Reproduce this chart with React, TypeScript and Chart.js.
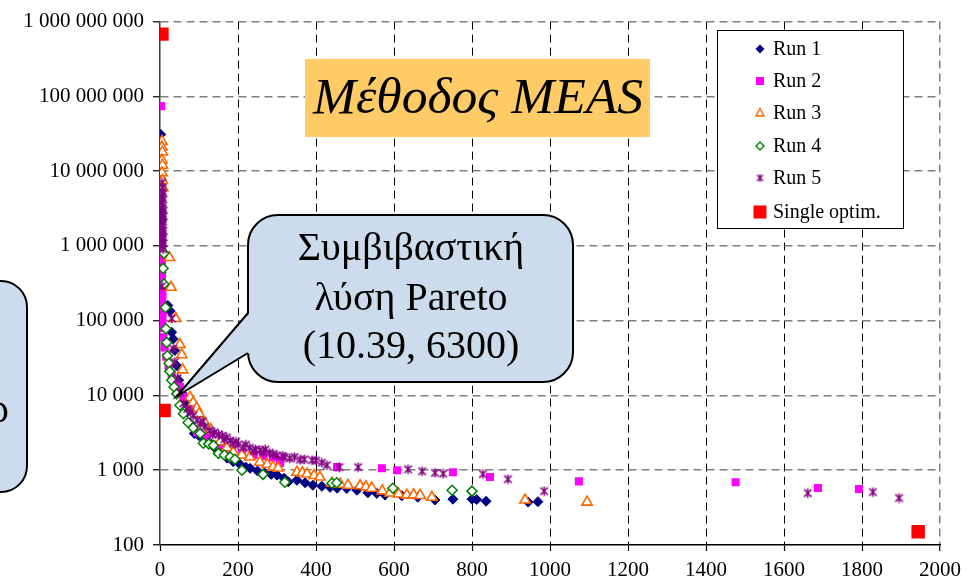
import React, { useEffect, useRef } from 'react';
import { Chart, registerables } from 'chart.js';
Chart.register(...registerables);

const seriesNames = ['Run 1', 'Run 2', 'Run 3', 'Run 4', 'Run 5', 'Single optim.'];

const run1: [number, number][] = [
  [2, 3.1e7], [3, 1.2e7], [2, 8e6], [3, 2.9e6], [4, 2.2e6], [2, 1.5e6], [3, 4.4e5], [20, 1.6e5],
  [26, 1.35e5], [30, 7e4], [34, 5.7e4], [38, 4e4], [43, 2.5e4], [48, 1.6e4], [55, 1.1e4], [62, 8000],
  [70, 6000], [78, 4200], [88, 3100], [100, 2900], [112, 2700], [128, 2300], [140, 2000], [155, 1750],
  [172, 1450], [188, 1300], [205, 1200], [220, 1100], [231, 1060], [250, 980], [268, 920], [285, 880],
  [300, 860], [318, 780], [329, 700], [351, 735], [372, 680], [392, 630], [415, 610], [436, 590],
  [454, 575], [479, 570], [505, 540], [533, 500], [556, 490], [577, 465], [620, 455], [661, 435],
  [705, 400], [751, 410], [800, 410], [812, 405], [836, 385], [944, 375], [969, 380],
];

const run2: [number, number][] = [
  [3, 7.4e7], [4, 1.6e6], [3, 1.4e6], [3, 1.2e6], [5, 1.05e6], [4, 9e5], [3, 8e5], [3, 7e5],
  [5, 6.2e5], [5, 5.5e5], [4, 4.8e5], [4, 4.2e5], [5, 3.7e5], [5, 3.3e5], [4, 2.9e5], [4, 2.6e5],
  [6, 2.3e5], [6, 2.1e5], [5, 1.85e5], [5, 1.7e5], [7, 1.5e5], [7, 1.3e5], [6, 1.15e5], [6, 1e5],
  [8, 8e4], [9, 6e4], [12, 4.4e4], [16, 3.3e4], [22, 2.5e4], [30, 1.9e4], [40, 1.5e4], [51, 1.3e4],
  [60, 9500], [75, 6500], [95, 3200], [120, 2700], [150, 2200], [167, 1950], [185, 1850], [210, 1700],
  [240, 1600], [265, 1550], [290, 1480], [308, 1400], [308, 1250], [454, 1100], [569, 1060], [608, 1000],
  [751, 940], [846, 810], [1074, 710], [1476, 690], [1687, 580], [1792, 560],
];

const run3: [number, number][] = [
  [5, 2.5e7], [5, 2.1e7], [6, 1.8e7], [5, 1.4e7], [6, 1.2e7], [5, 9.5e6], [6, 7.5e6], [7, 6e6],
  [24, 7e5], [28, 2.8e5], [40, 1.07e5], [51, 4.8e4], [56, 3.5e4], [58, 2.2e4], [77, 9400], [85, 8000],
  [94, 6800], [100, 5700], [115, 4300], [130, 3500], [154, 2400], [172, 2000], [188, 1730], [210, 1600],
  [230, 1500], [256, 1280], [275, 1200], [290, 1100], [303, 1070], [351, 940], [365, 920], [377, 890],
  [395, 850], [410, 810], [441, 670], [462, 650], [482, 630], [513, 620], [528, 600], [543, 575],
  [570, 530], [590, 495], [612, 480], [633, 465], [650, 470], [667, 460], [697, 435], [936, 400],
  [1095, 375],
];

const run4: [number, number][] = [
  [10, 8e5], [8, 5e5], [10, 3.1e5], [14, 1.5e5], [15, 7.8e4], [17, 5.1e4], [19, 3.4e4], [23, 2.7e4],
  [25, 2.1e4], [30, 1.6e4], [36, 1.3e4], [43, 1.05e4], [51, 7400], [60, 5700], [72, 4340], [85, 3700],
  [103, 3100], [111, 2300], [125, 2250], [137, 2150], [150, 1680], [165, 1600], [180, 1500], [192, 1400],
  [210, 1000], [264, 880], [320, 690], [441, 670], [453, 680], [597, 575], [749, 540], [800, 525],
];

const run5: [number, number][] = [
  [5, 7e6], [7, 6e6], [6, 5.4e6], [8, 5e6], [6, 4.5e6], [8, 4.2e6], [5, 3.8e6], [7, 3.5e6],
  [6, 3.2e6], [9, 3e6], [7, 2.7e6], [9, 2.5e6], [6, 2.3e6], [8, 2.1e6], [7, 1.9e6], [5, 1.75e6],
  [8, 1.6e6], [7, 1.45e6], [9, 1.3e6], [6, 1.2e6], [8, 1.1e6], [6, 1.0e6], [8, 9e5], [5, 2.9e5],
  [30, 1.07e5], [34, 4.2e4], [38, 2.8e4], [45, 1.7e4], [52, 1.1e4], [60, 7850], [70, 6600], [78, 6000],
  [85, 5400], [95, 4700], [103, 4200], [110, 4500], [115, 3800], [128, 3400], [135, 3000], [140, 3200],
  [150, 3000], [160, 2900], [165, 2600], [171, 2750], [180, 2500], [187, 2300], [195, 2400], [200, 2200],
  [213, 2030], [220, 2200], [230, 2000], [240, 1800], [245, 1900], [256, 1850], [265, 1750], [270, 1900],
  [280, 1700], [290, 1650], [300, 1580], [315, 1550], [320, 1500], [333, 1440], [345, 1500], [359, 1380],
  [370, 1400], [390, 1360], [400, 1350], [415, 1260], [428, 1170], [460, 1100], [508, 1100], [636, 1030],
  [672, 970], [705, 920], [726, 900], [828, 890], [892, 760], [985, 525], [1661, 495], [1828, 510],
  [1895, 425],
];

const singleOptim: [number, number][] = [
  [5, 6.8e8], [10.39, 6300], [1944, 150],
];

const xTickValues = [0, 200, 400, 600, 800, 1000, 1200, 1400, 1600, 1800, 2000];
const yTickValues = [100, 1e3, 1e4, 1e5, 1e6, 1e7, 1e8, 1e9];

const titleText = 'Μέθοδος MEAS';
const calloutLines = ['Συμβιβαστική', 'λύση Pareto', '(10.39, 6300)'];

const NAVY = '#000080';
const MAGENTA = '#ff00ff';
const ORANGE = '#ff6600';
const GREEN = '#008000';
const PURPLE = '#800080';
const RED = '#ff0000';

function makeAsterisk(color: string, size: number, lw: number) {
  const c = document.createElement('canvas');
  c.width = size;
  c.height = size;
  const g = c.getContext('2d')!;
  g.strokeStyle = color;
  g.lineWidth = lw;
  const m = size / 2;
  const r = size / 2 - 0.8;
  const d = r * 0.8;
  g.beginPath();
  g.moveTo(m - d, m - d); g.lineTo(m + d, m + d);
  g.moveTo(m + d, m - d); g.lineTo(m - d, m + d);
  g.moveTo(m, m - r); g.lineTo(m, m + r);
  g.stroke();
  return c;
}

function toPts(arr: [number, number][]) {
  return arr.map(([x, y]) => ({ x, y }));
}

function fmt(v: number) {
  return String(Math.round(v)).replace(/\B(?=(\d{3})+(?!\d))/g, ' ');
}

function roundRect(ctx: CanvasRenderingContext2D, x: number, y: number, w: number, h: number, r: number) {
  ctx.beginPath();
  ctx.moveTo(x + r, y);
  ctx.lineTo(x + w - r, y);
  ctx.arcTo(x + w, y, x + w, y + r, r);
  ctx.lineTo(x + w, y + h - r);
  ctx.arcTo(x + w, y + h, x + w - r, y + h, r);
  ctx.lineTo(x + r, y + h);
  ctx.arcTo(x, y + h, x, y + h - r, r);
  ctx.lineTo(x, y + r);
  ctx.arcTo(x, y, x + r, y, r);
  ctx.closePath();
}

function drawLegendMarker(ctx: CanvasRenderingContext2D, i: number, x: number, y: number, star: HTMLCanvasElement) {
  ctx.save();
  ctx.lineWidth = 1.4;
  if (i === 0) {
    ctx.fillStyle = NAVY;
    ctx.beginPath();
    ctx.moveTo(x, y - 4.5); ctx.lineTo(x + 4.5, y); ctx.lineTo(x, y + 4.5); ctx.lineTo(x - 4.5, y); ctx.closePath();
    ctx.fill();
  } else if (i === 1) {
    ctx.fillStyle = MAGENTA;
    ctx.fillRect(x - 4, y - 4, 8, 8);
  } else if (i === 2) {
    ctx.strokeStyle = ORANGE;
    ctx.fillStyle = '#fff';
    ctx.beginPath();
    ctx.moveTo(x, y - 4.5); ctx.lineTo(x + 4, y + 3); ctx.lineTo(x - 4, y + 3); ctx.closePath();
    ctx.fill(); ctx.stroke();
  } else if (i === 3) {
    ctx.strokeStyle = GREEN;
    ctx.fillStyle = '#fff';
    ctx.beginPath();
    ctx.moveTo(x, y - 4); ctx.lineTo(x + 4, y); ctx.lineTo(x, y + 4); ctx.lineTo(x - 4, y); ctx.closePath();
    ctx.fill(); ctx.stroke();
  } else if (i === 4) {
    ctx.drawImage(star, x - star.width / 2, y - star.height / 2);
  } else {
    ctx.fillStyle = RED;
    ctx.fillRect(x - 6.5, y - 6.5, 13, 13);
  }
  ctx.restore();
}

export default function App() {
  const ref = useRef<HTMLCanvasElement | null>(null);

  useEffect(() => {
    if (!ref.current) return;
    const star = makeAsterisk(PURPLE, 11, 1.6);
    const legendStar = makeAsterisk(PURPLE, 9, 1.4);

    const overlay = {
      id: 'overlay',
      afterDraw(chart: any) {
        const ctx: CanvasRenderingContext2D = chart.ctx;
        ctx.save();

        // Title box
        ctx.fillStyle = '#fecb66';
        ctx.fillRect(305, 59, 345, 78);
        ctx.fillStyle = '#000';
        ctx.font = 'italic 48px "Liberation Serif"';
        let w = ctx.measureText(titleText).width;
        const ts = Math.min(52, (48 * 330) / w);
        ctx.font = `italic ${ts}px "Liberation Serif"`;
        ctx.textAlign = 'center';
        ctx.textBaseline = 'alphabetic';
        ctx.fillText(titleText, 478, 113);

        // Legend
        ctx.fillStyle = '#fff';
        ctx.fillRect(717, 30, 186, 198);
        ctx.strokeStyle = '#000';
        ctx.lineWidth = 1;
        ctx.strokeRect(717.5, 30.5, 186, 198);
        const ly = [49, 81, 113, 146, 178, 212];
        ctx.font = '20px "Liberation Serif"';
        ctx.textAlign = 'left';
        ctx.textBaseline = 'middle';
        for (let i = 0; i < seriesNames.length; i++) {
          drawLegendMarker(ctx, i, 760, ly[i], legendStar);
          ctx.fillStyle = '#000';
          ctx.fillText(seriesNames[i], 773, ly[i] + 1);
        }

        // Main callout
        const bx = 248, by = 215, bw = 325, bh = 167, br = 30;
        ctx.fillStyle = '#cddcec';
        ctx.strokeStyle = '#000';
        ctx.lineWidth = 2;
        roundRect(ctx, bx, by, bw, bh, br);
        ctx.fill();
        ctx.stroke();
        ctx.beginPath();
        ctx.moveTo(bx + 1.5, 313);
        ctx.lineTo(177, 396);
        ctx.lineTo(bx + 1.5, 353);
        ctx.closePath();
        ctx.fill();
        ctx.beginPath();
        ctx.moveTo(bx, 313);
        ctx.lineTo(177, 396);
        ctx.lineTo(bx, 353);
        ctx.stroke();
        ctx.fillStyle = '#000';
        ctx.font = '38px "Liberation Serif"';
        w = ctx.measureText(calloutLines[0]).width;
        const cs = Math.min(40, (38 * 265) / w);
        ctx.font = `${cs}px "Liberation Serif"`;
        ctx.textAlign = 'center';
        ctx.textBaseline = 'alphabetic';
        const baselines = [260, 310, 358];
        calloutLines.forEach((t, i) => ctx.fillText(t, 411, baselines[i]));

        // Left partial callout
        ctx.fillStyle = '#cddcec';
        ctx.strokeStyle = '#000';
        ctx.lineWidth = 2;
        roundRect(ctx, -200, 281, 227, 211, 26);
        ctx.fill();
        ctx.stroke();
        ctx.fillStyle = '#000';
        ctx.font = `${cs}px "Liberation Serif"`;
        ctx.textAlign = 'right';
        ctx.fillText('ρ', 9, 422);

        ctx.restore();
      },
    };

    const chart = new Chart(ref.current, {
      type: 'scatter',
      data: {
        datasets: [
          {
            label: seriesNames[0], data: toPts(run1), pointStyle: 'rectRot', pointRadius: 5,
            backgroundColor: NAVY, borderColor: NAVY, borderWidth: 1, order: 6,
          },
          {
            label: seriesNames[1], data: toPts(run2), pointStyle: 'rect', pointRadius: 5.7,
            backgroundColor: MAGENTA, borderColor: MAGENTA, borderWidth: 0, order: 5,
          },
          {
            label: seriesNames[2], data: toPts(run3), pointStyle: 'triangle', pointRadius: 6,
            backgroundColor: '#ffffff', borderColor: ORANGE, borderWidth: 1.6, order: 4,
          },
          {
            label: seriesNames[3], data: toPts(run4), pointStyle: 'rectRot', pointRadius: 5,
            backgroundColor: '#ffffff', borderColor: GREEN, borderWidth: 1.5, order: 3,
          },
          {
            label: seriesNames[4], data: toPts(run5), pointStyle: star as any, pointRadius: 5,
            backgroundColor: PURPLE, borderColor: PURPLE, order: 2,
          },
          {
            label: seriesNames[5], data: toPts(singleOptim), pointStyle: 'rect', pointRadius: 9.5,
            backgroundColor: RED, borderColor: RED, borderWidth: 0, order: 1,
          },
        ],
      },
      options: {
        animation: false,
        responsive: false,
        maintainAspectRatio: false,
        layout: { padding: { left: 0, top: 20, right: 40, bottom: 0 } },
        plugins: { legend: { display: false }, tooltip: { enabled: false } },
        scales: {
          x: {
            type: 'linear',
            min: 0,
            max: 2000,
            afterBuildTicks: (s: any) => { s.ticks = xTickValues.map((v) => ({ value: v })); },
            afterFit: (s: any) => { s.height = 39; },
            ticks: {
              color: '#000',
              font: { family: '"Liberation Serif"', size: 21 },
              padding: 7,
              maxRotation: 0,
              autoSkip: false,
              callback: (v: any) => String(v),
            },
            grid: {
              color: (c: any) => (c.tick && c.tick.value === 0 ? 'rgba(0,0,0,0)' : c.tick && c.tick.value === 2000 ? '#808080' : '#000'),
              lineWidth: (c: any) => (c.tick && c.tick.value === 2000 ? 1.5 : 1),
              tickLength: 6,
              tickColor: '#000',
              tickWidth: 1.2,
            },
            border: { display: true, color: '#000', width: 1.5, dash: [8, 5] },
          },
          y: {
            type: 'logarithmic',
            min: 100,
            max: 1e9,
            afterBuildTicks: (s: any) => { s.ticks = yTickValues.map((v) => ({ value: v, major: true })); },
            afterFit: (s: any) => { s.width = 160; },
            ticks: {
              color: '#000',
              font: { family: '"Liberation Serif"', size: 21 },
              padding: 9,
              autoSkip: false,
              callback: (v: any) => fmt(Number(v)),
            },
            grid: {
              color: (c: any) => (c.tick && c.tick.value === 100 ? 'rgba(0,0,0,0)' : '#7f7f7f'),
              lineWidth: 1.5,
              tickLength: 7,
              tickColor: '#000',
              tickWidth: 1.2,
            },
            border: { display: true, color: '#3a3a3a', width: 1.5, dash: [8, 5] },
          },
        },
      },
      plugins: [overlay],
    });
    return () => chart.destroy();
  }, []);

  return (
    <div style={{ position: 'fixed', left: 0, top: 0, width: 980, height: 584, background: '#fff' }}>
      <canvas ref={ref} width={980} height={584} style={{ width: 980, height: 584, display: 'block' }} />
    </div>
  );
}
